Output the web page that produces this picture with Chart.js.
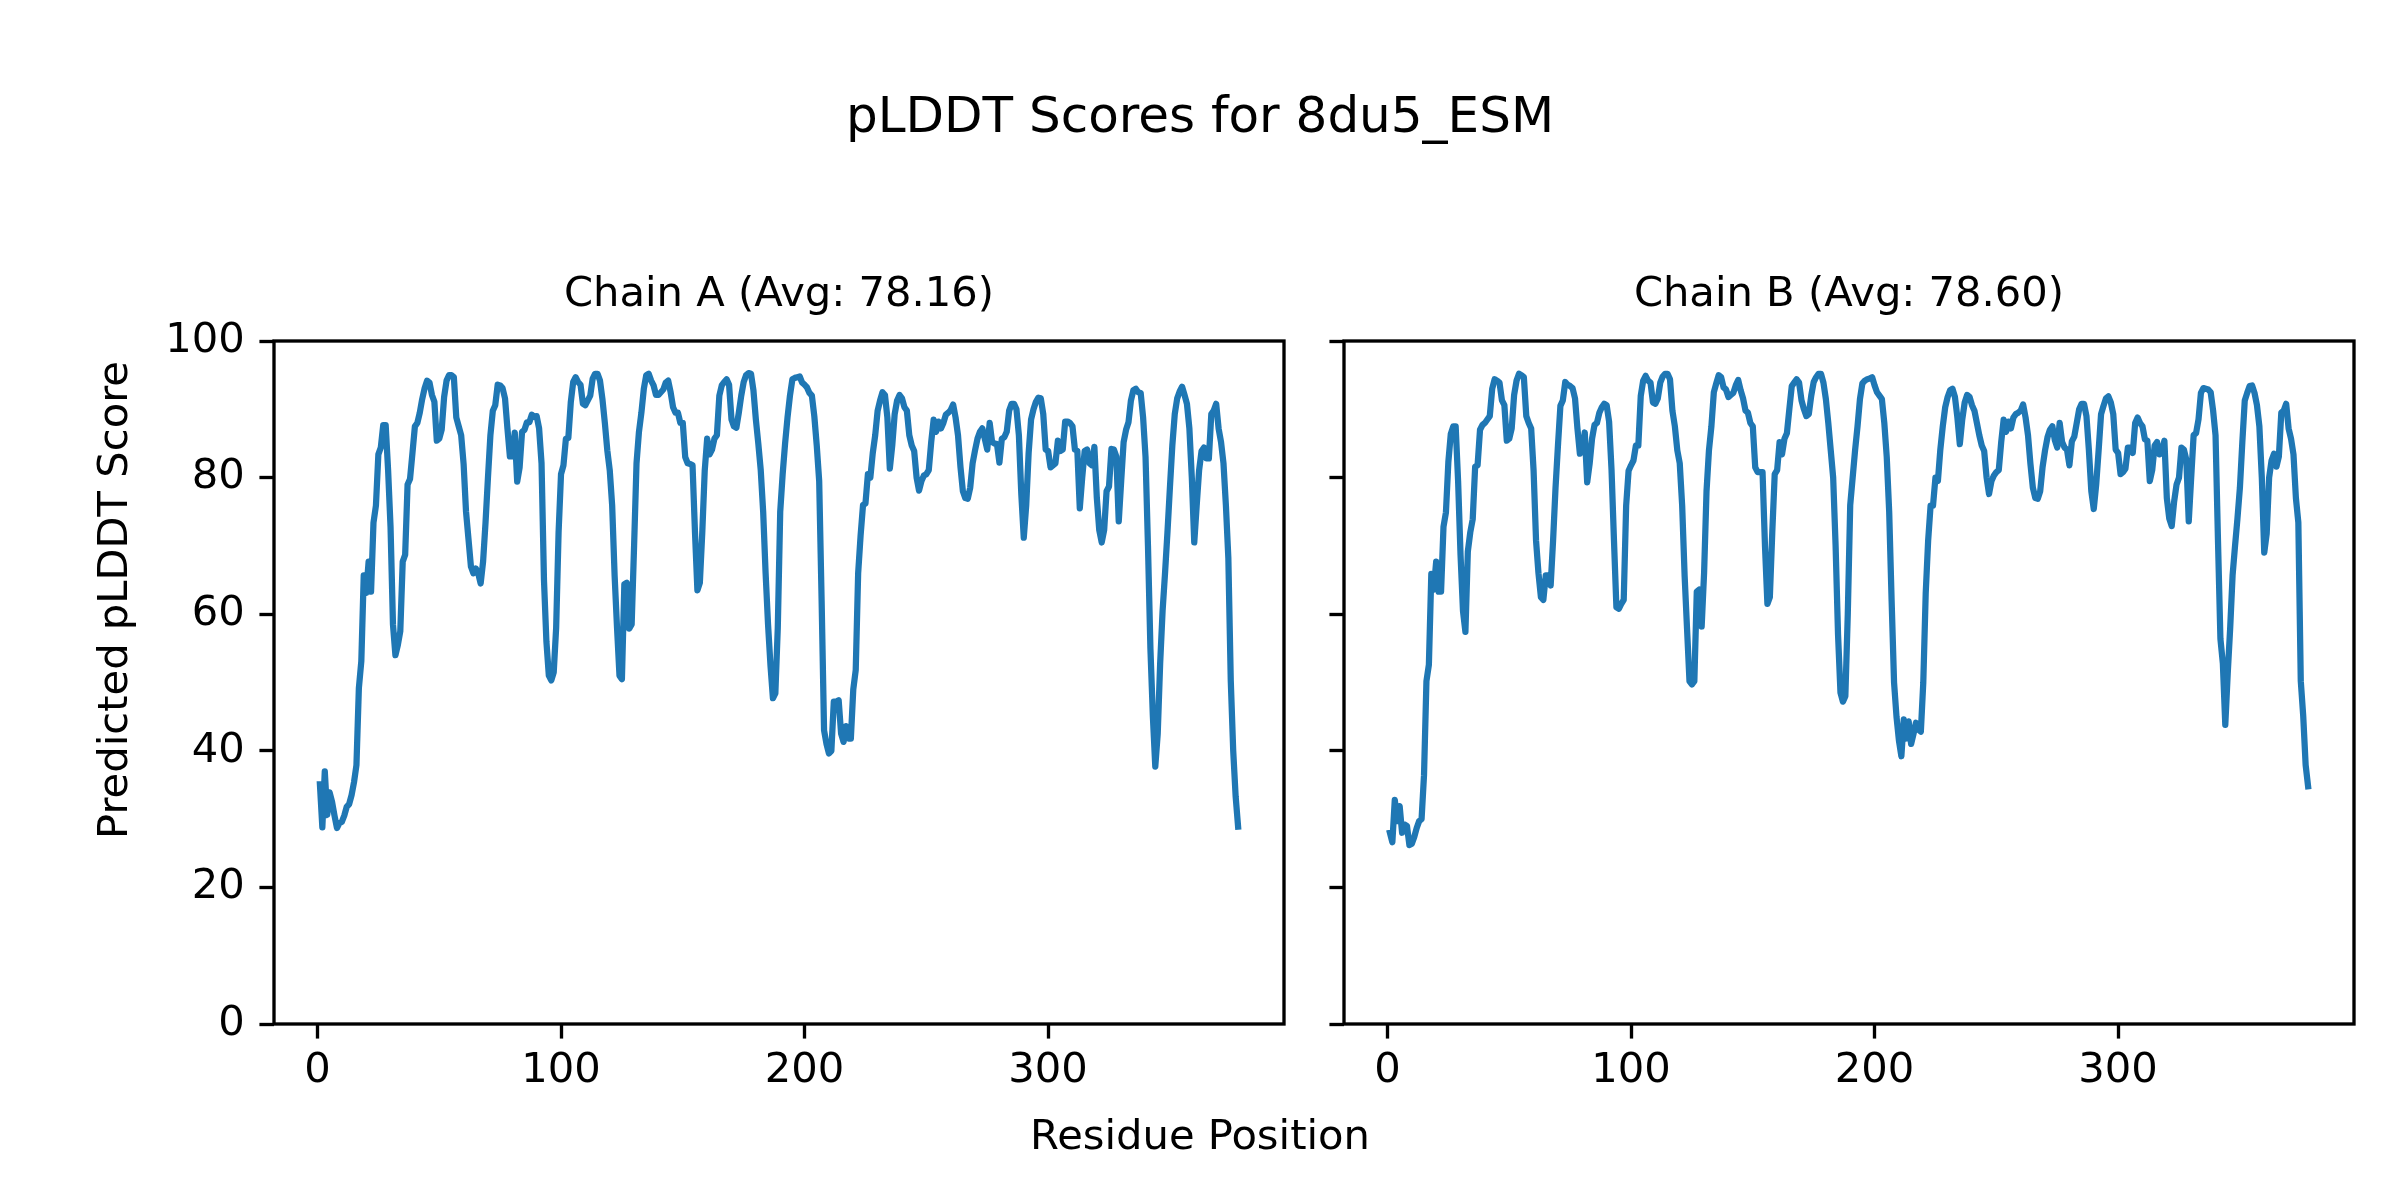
<!DOCTYPE html>
<html>
<head>
<meta charset="utf-8">
<title>pLDDT Scores for 8du5_ESM</title>
<script src="https://cdn.jsdelivr.net/npm/chart.js@4.4.1/dist/chart.umd.min.js"></script>
<style>
  html, body { margin: 0; padding: 0; background: #ffffff; }
  #wrap { position: relative; width: 2400px; height: 1200px; }
  #wrap canvas { position: absolute; left: 0; top: 0; }
</style>
</head>
<body>
<div id="wrap">
  <canvas id="chainAChart" width="2400" height="1200"></canvas>
  <canvas id="chainBChart" width="2400" height="1200"></canvas>
</div>
<script>
// Texts
var figTitle = 'pLDDT Scores for 8du5_ESM';
var xLabel = 'Residue Position';
var yLabel = 'Predicted pLDDT Score';
var chainATitle = 'Chain A (Avg: 78.16)';
var chainBTitle = 'Chain B (Avg: 78.60)';

// Tick labels
var xTicks = [0, 100, 200, 300];
var yTicks = [0, 20, 40, 60, 80, 100];

// pLDDT per residue
var chainA = [
  35.1, 28.8, 37.0, 30.6, 33.9, 32.5, 30.5, 28.7, 29.4, 29.6,
  30.5, 31.8, 32.2, 33.5, 35.4, 37.9, 49.2, 53.1, 65.7, 63.1,
  67.7, 63.3, 73.4, 75.9, 83.4, 84.4, 87.7, 87.7, 81.1, 72.8,
  58.5, 54.0, 55.5, 57.5, 67.7, 68.7, 79.0, 79.8, 83.6, 87.5,
  88.0, 89.5, 91.5, 93.1, 94.2, 93.9, 92.1, 91.1, 85.4, 85.7,
  87.0, 91.8, 94.2, 95.0, 95.0, 94.7, 88.8, 87.5, 86.2, 82.0,
  75.0, 71.0, 67.0, 66.0, 66.7, 66.0, 64.5, 67.7, 73.4, 80.0,
  86.2, 89.8, 90.6, 93.6, 93.5, 93.1, 91.6, 87.2, 83.1, 83.1,
  86.6, 79.4, 81.5, 86.7, 87.0, 88.1, 88.1, 89.2, 88.9, 89.0,
  87.2, 82.1, 65.0, 56.0, 51.0, 50.3, 51.5, 58.0, 72.0, 80.5,
  81.8, 85.7, 85.8, 91.0, 94.0, 94.7, 94.0, 93.6, 90.8, 90.6,
  91.3, 92.0, 94.5, 95.2, 95.2, 94.2, 91.5, 88.0, 84.0, 81.1,
  75.9, 65.7, 58.0, 51.0, 50.5, 64.4, 64.6, 57.9, 58.5, 70.0,
  82.1, 86.7, 89.5, 93.0, 95.0, 95.2, 94.2, 93.5, 92.1, 92.1,
  92.5, 92.9, 93.9, 94.2, 92.5, 90.3, 89.5, 89.5, 88.0, 88.0,
  83.0, 82.1, 82.0, 81.8, 72.0, 63.5, 64.6, 72.0, 81.0, 85.7,
  83.4, 84.1, 85.7, 86.2, 92.0, 93.5, 94.0, 94.4, 93.6, 88.5,
  87.5, 87.3, 89.5, 92.0, 94.0, 95.0, 95.3, 95.2, 92.8, 88.5,
  85.0, 81.1, 75.0, 66.0, 58.5, 52.5, 47.7, 48.4, 58.0, 75.0,
  80.5, 85.0, 88.8, 92.0, 94.4, 94.6, 94.7, 94.8, 93.9, 93.6,
  93.2, 92.4, 92.0, 89.0, 84.7, 79.5, 62.0, 43.0, 41.0, 39.6,
  40.0, 47.2, 47.2, 47.4, 42.5, 41.3, 43.6, 41.8, 41.8, 49.0,
  51.8, 66.0, 71.5, 76.0, 76.2, 80.5, 80.0, 83.6, 86.2, 89.8,
  91.3, 92.5, 92.1, 88.8, 81.3, 84.7, 89.3, 91.3, 92.1, 91.6,
  90.3, 89.8, 86.2, 84.7, 83.9, 80.0, 78.1, 79.5, 80.3, 80.5,
  81.1, 85.2, 88.5, 86.7, 88.2, 87.2, 88.0, 89.2, 89.5, 89.9,
  90.7, 88.8, 86.2, 81.6, 78.0, 77.0, 76.9, 78.5, 82.1, 84.0,
  85.7, 86.7, 87.2, 85.7, 84.1, 88.0, 85.2, 85.0, 84.9, 82.2,
  85.7, 85.9, 86.7, 89.8, 90.8, 90.8, 90.0, 86.2, 77.5, 71.2,
  75.9, 83.6, 88.5, 90.0, 91.1, 91.7, 91.6, 89.3, 84.1, 83.9,
  81.5, 81.8, 82.1, 85.4, 83.9, 84.1, 88.2, 88.2, 88.0, 87.5,
  84.1, 83.9, 75.5, 80.0, 83.9, 84.1, 82.1, 81.8, 84.5, 77.0,
  72.3, 70.5, 72.3, 78.0, 78.7, 84.2, 84.1, 83.1, 73.6, 79.5,
  85.2, 87.0, 88.1, 91.3, 92.8, 93.0, 92.5, 92.4, 88.8, 83.0,
  70.0, 55.0, 45.1, 37.7, 42.5, 52.8, 60.5, 66.0, 72.0, 78.5,
  84.7, 89.3, 91.6, 92.6, 93.3, 92.1, 90.8, 87.2, 80.0, 70.5,
  75.9, 81.1, 83.9, 84.4, 82.8, 82.8, 89.3, 89.8, 90.8, 87.2,
  85.2, 82.1, 75.9, 68.2, 50.2, 40.0, 33.3, 28.9
];

var chainB = [
  28.0, 26.6, 32.8, 29.7, 31.9, 28.0, 29.2, 29.0, 26.2, 26.4,
  27.4, 28.7, 29.7, 30.0, 36.4, 50.2, 52.6, 65.9, 63.6, 67.7,
  63.3, 63.3, 72.8, 74.9, 82.3, 86.4, 87.5, 87.5, 79.5, 68.7,
  60.5, 57.4, 69.2, 72.0, 73.9, 81.6, 81.8, 87.0, 87.7, 88.0,
  88.5, 89.0, 93.0, 94.4, 94.2, 93.9, 91.3, 90.6, 85.4, 85.7,
  87.2, 92.1, 94.2, 95.2, 95.0, 94.7, 89.0, 88.0, 87.2, 81.0,
  70.8, 66.0, 62.5, 62.1, 65.7, 65.7, 64.2, 70.8, 78.5, 84.7,
  90.5, 91.3, 94.0, 93.6, 93.4, 93.1, 91.6, 87.2, 83.5, 84.0,
  86.6, 79.3, 82.0, 85.7, 87.7, 88.0, 89.5, 90.3, 90.8, 90.6,
  88.2, 81.1, 70.8, 61.0, 60.8, 61.5, 62.1, 75.9, 81.0, 81.8,
  82.5, 84.7, 84.7, 92.0, 94.2, 94.9, 94.2, 93.9, 91.0, 90.8,
  91.6, 93.9, 94.8, 95.2, 95.2, 94.4, 89.8, 87.5, 84.0, 82.1,
  75.9, 65.7, 57.9, 50.2, 49.7, 50.2, 63.3, 63.6, 58.2, 66.0,
  78.0, 84.0, 87.5, 92.5, 93.8, 95.0, 94.7, 93.2, 92.9, 91.8,
  92.1, 92.4, 93.5, 94.3, 92.8, 91.6, 89.8, 89.5, 88.0, 87.5,
  81.5, 80.8, 80.8, 80.8, 70.0, 61.5, 62.5, 72.0, 80.5, 81.1,
  85.2, 83.4, 85.7, 86.5, 90.0, 93.4, 93.9, 94.4, 93.9, 91.3,
  90.0, 89.0, 89.3, 92.0, 94.0, 94.7, 95.2, 95.2, 93.9, 91.5,
  88.0, 84.0, 80.0, 70.0, 57.0, 48.5, 47.2, 48.0, 60.0, 76.0,
  80.0, 84.0, 87.5, 91.5, 93.8, 94.2, 94.4, 94.5, 94.7, 93.5,
  92.5, 92.0, 91.5, 88.0, 83.0, 75.0, 62.0, 50.0, 45.0, 41.5,
  39.2, 44.6, 41.8, 44.3, 41.0, 42.5, 44.1, 43.1, 42.8, 50.0,
  63.1, 70.8, 75.9, 75.9, 80.0, 79.5, 84.1, 87.5, 90.3, 91.8,
  92.8, 93.0, 91.8, 88.8, 84.9, 88.5, 91.0, 92.1, 91.8, 90.6,
  89.8, 88.0, 86.2, 84.7, 83.9, 80.0, 77.6, 79.5, 80.3, 80.8,
  81.1, 85.2, 88.5, 86.7, 88.2, 87.2, 88.8, 89.3, 89.5, 89.8,
  90.7, 88.8, 86.2, 82.0, 78.5, 77.0, 76.9, 78.0, 81.6, 84.0,
  85.9, 87.0, 87.5, 85.5, 84.4, 88.0, 85.2, 84.4, 84.1, 81.8,
  85.3, 86.0, 88.0, 90.0, 90.8, 90.8, 89.0, 84.0, 78.0, 75.4,
  79.0, 84.0, 89.3, 90.5, 91.6, 91.9, 91.0, 89.3, 84.1, 83.6,
  80.5, 80.8, 81.3, 84.4, 84.4, 83.6, 88.0, 88.8, 88.0, 87.5,
  85.6, 85.4, 79.5, 81.1, 84.7, 85.2, 83.4, 83.6, 85.4, 77.0,
  74.0, 72.9, 76.5, 79.0, 80.0, 84.4, 84.1, 82.6, 73.6, 80.0,
  86.2, 86.5, 88.5, 92.4, 93.1, 93.0, 92.9, 92.5, 89.8, 86.2,
  70.8, 56.4, 52.8, 43.8, 51.3, 57.9, 65.7, 70.0, 74.0, 78.5,
  85.2, 91.3, 92.4, 93.4, 93.5, 92.4, 90.6, 87.5, 80.0, 69.0,
  71.8, 80.0, 82.5, 83.5, 81.6, 83.1, 89.5, 89.8, 90.8, 87.2,
  85.7, 83.4, 77.0, 73.4, 50.2, 45.1, 37.9, 34.8
];

// Residue numbers start at 1
var residues = chainA.map(function (v, i) { return i + 1; });

// 5% margin on x like the original plot
var xSpan = residues[residues.length - 1] - residues[0];
var xMin = residues[0] - 0.05 * xSpan;
var xMax = residues[residues.length - 1] + 0.05 * xSpan;

var lineColor = '#1f77b4';
var fontFamily = '"DejaVu Sans"';
var smallSize = 41.67; // 10pt at 300 dpi
var bigSize = 50;      // 12pt at 300 dpi

Chart.defaults.font.family = fontFamily;
Chart.defaults.color = '#000000';

function toPoints(values) {
  return values.map(function (v, i) { return { x: residues[i], y: v }; });
}

// Draws the box round the axes and the texts
var figTextPlugin = {
  id: 'figText',
  afterDatasetsDraw: function (chart, args, opts) {
    var ctx = chart.ctx;
    var a = chart.chartArea;
    ctx.save();
    ctx.strokeStyle = '#000000';
    ctx.lineWidth = 3.33;
    ctx.strokeRect(a.left, a.top, a.right - a.left, a.bottom - a.top);
    ctx.restore();
  },
  afterDraw: function (chart, args, opts) {
    var ctx = chart.ctx;
    var a = chart.chartArea;
    ctx.save();
    ctx.fillStyle = '#000000';
    ctx.textAlign = 'center';
    ctx.textBaseline = 'alphabetic';
    ctx.font = smallSize + 'px ' + fontFamily;
    ctx.fillText(opts.title, (a.left + a.right) / 2, a.top - 35);
    if (opts.figure) {
      ctx.font = bigSize + 'px ' + fontFamily;
      ctx.fillText(figTitle, 1200, 132);
      ctx.font = smallSize + 'px ' + fontFamily;
      ctx.fillText(xLabel, 1200, 1149);
      ctx.translate(127, 600);
      ctx.rotate(-Math.PI / 2);
      ctx.fillText(yLabel, 0, 0);
    }
    ctx.restore();
  }
};

function makeChart(canvasId, values, title, showYLabels, padding, yAxisWidth, figure) {
  var ctx = document.getElementById(canvasId).getContext('2d');
  return new Chart(ctx, {
    type: 'line',
    data: {
      datasets: [{
        label: title,
        data: toPoints(values),
        borderColor: lineColor,
        borderWidth: 6.25,
        borderJoinStyle: 'round',
        borderCapStyle: 'square',
        pointRadius: 0,
        tension: 0,
        fill: false
      }]
    },
    plugins: [figTextPlugin],
    options: {
      responsive: false,
      animation: false,
      devicePixelRatio: 1,
      layout: { padding: padding },
      scales: {
        x: {
          type: 'linear',
          min: xMin,
          max: xMax,
          afterBuildTicks: function (scale) {
            scale.ticks = xTicks.map(function (v) { return { value: v }; });
          },
          afterFit: function (scale) { scale.height = 100; },
          border: { display: false },
          grid: {
            drawOnChartArea: false,
            drawTicks: true,
            tickLength: 14.58,
            tickWidth: 3.33,
            tickColor: '#000000'
          },
          ticks: {
            padding: 8,
            maxRotation: 0,
            color: '#000000',
            font: { size: smallSize }
          }
        },
        y: {
          min: 0,
          max: 100,
          afterBuildTicks: function (scale) {
            scale.ticks = yTicks.map(function (v) { return { value: v }; });
          },
          afterFit: function (scale) { scale.width = yAxisWidth; },
          border: { display: false },
          grid: {
            drawOnChartArea: false,
            drawTicks: true,
            tickLength: 14.58,
            tickWidth: 3.33,
            tickColor: '#000000'
          },
          ticks: {
            display: showYLabels,
            padding: 14.58,
            color: '#000000',
            font: { size: smallSize }
          }
        }
      },
      plugins: {
        legend: { display: false },
        tooltip: { enabled: false },
        figText: { title: title, figure: figure }
      }
    }
  });
}

// Left panel: plot area 274..1284 x 341..1024
var chartA = makeChart('chainAChart', chainA, chainATitle, true,
  { left: 0, top: 341, right: 1116, bottom: 76 }, 274, true);

// Right panel: plot area 1344..2354 x 341..1024
var chartB = makeChart('chainBChart', chainB, chainBTitle, false,
  { left: 1244, top: 341, right: 46, bottom: 76 }, 100, false);
</script>
</body>
</html>
